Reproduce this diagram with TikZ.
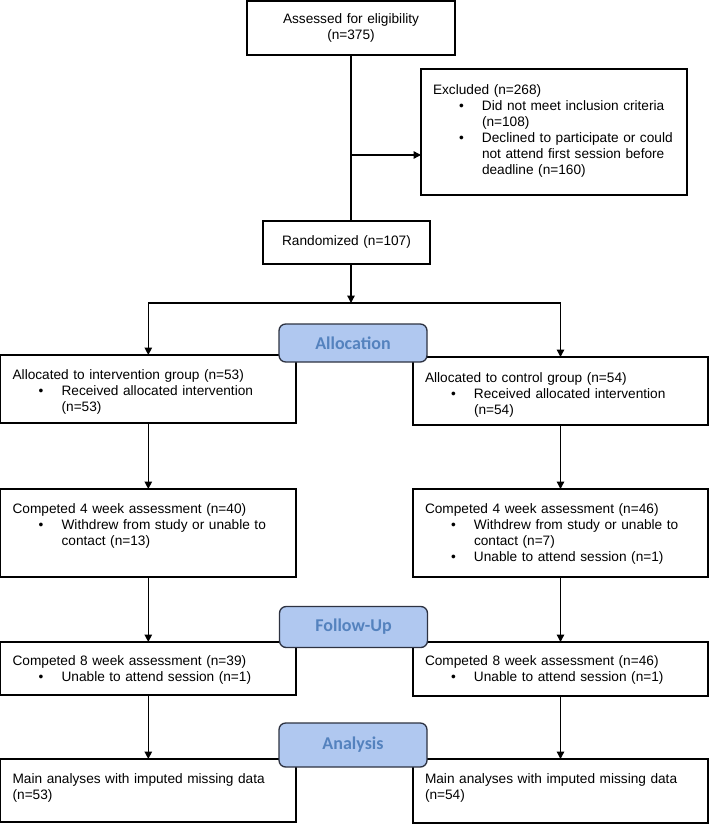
\documentclass[tikz,border=0pt]{standalone}
\usepackage{fontspec}
\setmainfont{Liberation Sans}
\newfontfamily\phasefont{Carlito}
\usetikzlibrary{arrows.meta}

\definecolor{phasefill}{RGB}{176,200,240}
\definecolor{phasetext}{RGB}{84,130,190}
\definecolor{phaseline}{RGB}{45,50,65}

% bullet line and its indented continuation
\newcommand{\bitem}[1]{\par\noindent\hspace*{19.5pt}\makebox[17.25pt][l]{\textbullet}#1}
\newcommand{\bmore}[1]{\par\noindent\hspace*{36.75pt}#1}

\tikzset{
  flowbox/.style={draw, line width=1pt, anchor=north west, outer sep=0pt, inner xsep=9pt, inner ysep=0pt, align=left},
  midbox/.style={flowbox, align=center},
  link/.style={line width=1pt},
  phase/.style={draw=phaseline, fill=phasefill, line width=1pt, rounded corners=5pt, minimum width=111pt, inner sep=0pt, text=phasetext, font=\phasefont\bfseries\fontsize{13.5}{16}\selectfont}
}

\begin{document}
\begin{tikzpicture}[x=0.75pt, y=-0.75pt, font=\fontsize{10.25}{12}\selectfont, >={Triangle[length=5.5pt,width=5.5pt]}]
  \useasboundingbox (0,0) rectangle (709,824);

  % enrolment
  \node[midbox, text width=138pt, text height=17.25pt, text depth=23.25pt] (assess) at (247,1) {Assessed for eligibility\\(n=375)};
  \node[flowbox, text width=181.5pt, text height=18.75pt, text depth=75.75pt] (excl) at (421,69) {Excluded (n=268)\bitem{Did not meet inclusion criteria}\bmore{(n=108)}\bitem{Declined to participate or could}\bmore{not attend first session before}\bmore{deadline (n=160)}};
  \node[midbox, text width=107.25pt, text height=18pt, text depth=14.25pt] (rand) at (263,221) {Randomized (n=107)};

  % two arms
  \node[flowbox, text width=203.55pt, text height=18pt, text depth=33pt] (allocL) at (0.6,355) {Allocated to intervention group (n=53)\bitem{Received allocated intervention}\bmore{(n=53)}};
  \node[flowbox, text width=203.25pt, text height=18.75pt, text depth=32.25pt] (allocR) at (413,357) {Allocated to control group (n=54)\bitem{Received allocated intervention}\bmore{(n=54)}};
  \node[flowbox, text width=203.55pt, text height=18pt, text depth=48pt] (compL) at (0.6,489) {Competed 4 week assessment (n=40)\bitem{Withdrew from study or unable to}\bmore{contact (n=13)}};
  \node[flowbox, text width=203.25pt, text height=18pt, text depth=48pt] (compR) at (413,489) {Competed 4 week assessment (n=46)\bitem{Withdrew from study or unable to}\bmore{contact (n=7)}\bitem{Unable to attend session (n=1)}};
  \node[flowbox, text width=203.55pt, text height=17.25pt, text depth=22.5pt] (followL) at (0.6,642) {Competed 8 week assessment (n=39)\bitem{Unable to attend session (n=1)}};
  \node[flowbox, text width=203.25pt, text height=17.25pt, text depth=23.25pt] (followR) at (413,642) {Competed 8 week assessment (n=46)\bitem{Unable to attend session (n=1)}};
  \node[flowbox, text width=203.55pt, text height=18pt, text depth=29.25pt] (anaL) at (0.6,759) {Main analyses with imputed missing data\newline (n=53)};
  \node[flowbox, text width=203.25pt, text height=18pt, text depth=30pt] (anaR) at (413,759) {Main analyses with imputed missing data\newline (n=54)};

  % connectors
  \draw[link] (assess.south) -- (assess.south |- rand.north);
  \coordinate (exbr) at (351,155);
  \draw[link, ->] (exbr) -- (exbr -| excl.west);
  \coordinate (split) at (351,303);
  \draw[link, ->] (split |- rand.south) -- (split);
  \draw[link, ->] (split) -| (allocL.north);
  \draw[link, ->] (split) -| (allocR.north);
  \draw[link, ->] (allocL.south) -- (compL.north);
  \draw[link, ->] (allocR.south) -- (compR.north);
  \draw[link, ->] (compL.south) -- (followL.north);
  \draw[link, ->] (compR.south) -- (followR.north);
  \draw[link, ->] (followL.south) -- (anaL.north);
  \draw[link, ->] (followR.south) -- (anaR.north);

  % phase labels
  \node[phase, minimum height=28.5pt] (allocation) at (353,343) {Allocation};
  \node[phase, minimum height=30.75pt] (followup) at (353.5,627) {Follow-Up};
  \node[phase, minimum height=33pt] (analysis) at (353,745) {Analysis};
\end{tikzpicture}
\end{document}
